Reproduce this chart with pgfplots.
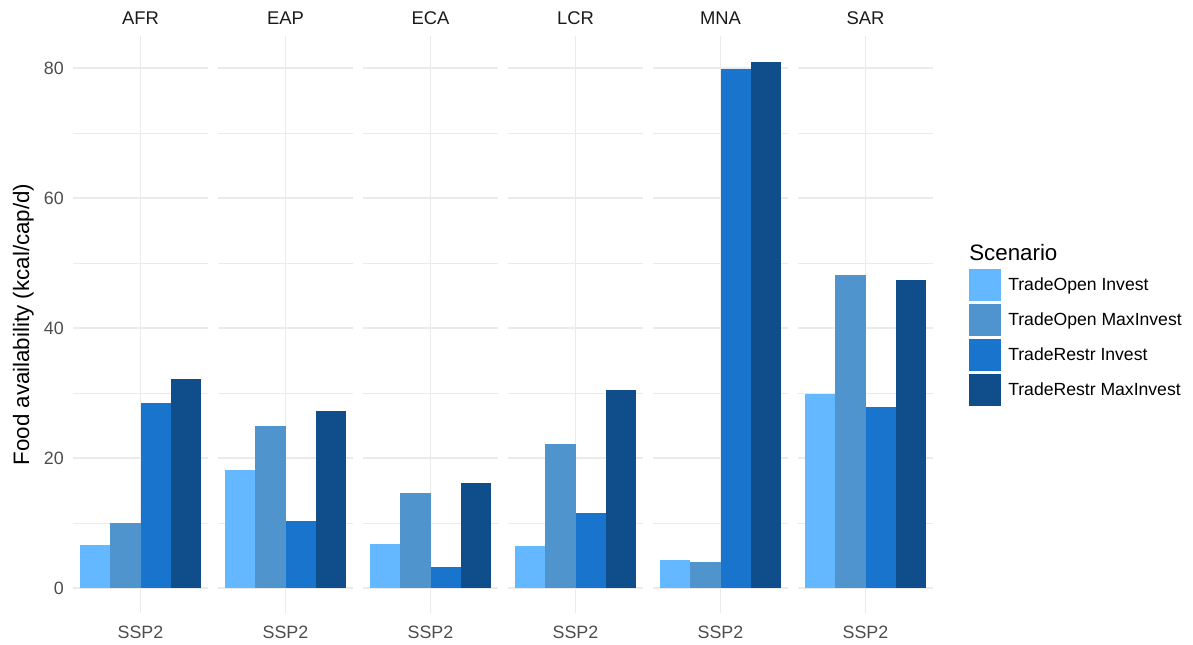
\documentclass[border=0pt]{standalone}
\usepackage{fontspec}
\setmainfont{Liberation Sans}
\usepackage{pgfplots}
\pgfplotsset{compat=1.18}
\definecolor{cA}{RGB}{99,184,255}
\definecolor{cB}{RGB}{79,148,205}
\definecolor{cC}{RGB}{24,116,205}
\definecolor{cD}{RGB}{16,78,139}
\definecolor{gridc}{RGB}{235,235,235}
\definecolor{axtext}{RGB}{77,77,77}
\definecolor{striptext}{RGB}{26,26,26}
\pgfplotsset{
  panel/.style={
    scale only axis, width=101.25pt, height=432.75pt,
    anchor=north west,
    xmin=0.498, xmax=1.502, ymin=-3.85, ymax=84.95,
    axis line style={draw=none},
    tick style={draw=none},
    major tick length=0pt, minor tick length=0pt,
    xtick={1}, xticklabels={SSP2},
    ytick={0,20,40,60,80}, minor ytick={10,30,50,70},
    xmajorgrids, ymajorgrids, yminorgrids,
    major grid style={gridc, line width=1.1pt},
    minor grid style={gridc, line width=0.55pt},
    ticklabel style={font=\fontsize{13.4}{15}\selectfont, text=axtext},
    xticklabel style={anchor=base, yshift=-18.75pt, inner sep=0pt},
    yticklabel style={anchor=east, inner sep=0pt, xshift=-6.75pt},
    /pgf/number format/assume math mode=true,
    title style={at={(0.5,1)}, anchor=base, yshift=2.25pt,
      font=\fontsize{13.8}{16}\selectfont, text=striptext, inner sep=0pt},
    ybar, bar width=0.225, bar shift=0pt,
  },
  noy/.style={yticklabels={}},
  sqlegend/.style={legend image code/.code={\fill[##1] (0pt,-12pt) rectangle (24pt,12pt);}},
}
\begin{document}
\begin{tikzpicture}
\path[use as bounding box] (0,0) rectangle (894.75pt,-483.75pt);
% AFR
\begin{axis}[panel, at={(54.75pt,-27pt)}, title={AFR}]
\addplot[fill=cA, draw=none] coordinates {(0.6625,6.6)};
\addplot[fill=cB, draw=none] coordinates {(0.8875,10.0)};
\addplot[fill=cC, draw=none] coordinates {(1.1125,28.5)};
\addplot[fill=cD, draw=none] coordinates {(1.3375,32.2)};
\end{axis}
% EAP
\begin{axis}[panel, noy, at={(163.5pt,-27pt)}, title={EAP}]
\addplot[fill=cA, draw=none] coordinates {(0.6625,18.2)};
\addplot[fill=cB, draw=none] coordinates {(0.8875,24.9)};
\addplot[fill=cC, draw=none] coordinates {(1.1125,10.3)};
\addplot[fill=cD, draw=none] coordinates {(1.3375,27.2)};
\end{axis}
% ECA
\begin{axis}[panel, noy, at={(272.25pt,-27pt)}, title={ECA}]
\addplot[fill=cA, draw=none] coordinates {(0.6625,6.8)};
\addplot[fill=cB, draw=none] coordinates {(0.8875,14.6)};
\addplot[fill=cC, draw=none] coordinates {(1.1125,3.3)};
\addplot[fill=cD, draw=none] coordinates {(1.3375,16.1)};
\end{axis}
% LCR
\begin{axis}[panel, noy, at={(381pt,-27pt)}, title={LCR}]
\addplot[fill=cA, draw=none] coordinates {(0.6625,6.5)};
\addplot[fill=cB, draw=none] coordinates {(0.8875,22.2)};
\addplot[fill=cC, draw=none] coordinates {(1.1125,11.6)};
\addplot[fill=cD, draw=none] coordinates {(1.3375,30.4)};
\end{axis}
% MNA
\begin{axis}[panel, noy, at={(489.75pt,-27pt)}, title={MNA}]
\addplot[fill=cA, draw=none] coordinates {(0.6625,4.3)};
\addplot[fill=cB, draw=none] coordinates {(0.8875,4.0)};
\addplot[fill=cC, draw=none] coordinates {(1.1125,79.9)};
\addplot[fill=cD, draw=none] coordinates {(1.3375,80.9)};
\end{axis}
% SAR
\begin{axis}[panel, noy, at={(598.5pt,-27pt)}, title={SAR},
  legend style={at={(1.2667,0.5962)}, anchor=north west, draw=none, fill=none,
    inner sep=0pt, row sep=2.25pt, column sep=5.25pt,
    font=\fontsize{13.2}{15}\selectfont, nodes={inner sep=0pt}},
  legend cell align=left]
\addplot[fill=cA, draw=none, sqlegend] coordinates {(0.6625,29.9)};
\addlegendentry{TradeOpen Invest}
\addplot[fill=cB, draw=none, sqlegend] coordinates {(0.8875,48.2)};
\addlegendentry{TradeOpen MaxInvest}
\addplot[fill=cC, draw=none, sqlegend] coordinates {(1.1125,27.8)};
\addlegendentry{TradeRestr Invest}
\addplot[fill=cD, draw=none, sqlegend] coordinates {(1.3375,47.4)};
\addlegendentry{TradeRestr MaxInvest}
\end{axis}
\node[rotate=90, anchor=base, inner sep=0pt, font=\fontsize{16.75}{20}\selectfont] at (21.75pt,-243.4pt) {Food availability (kcal/cap/d)};
\node[anchor=base west, inner sep=0pt, font=\fontsize{16.75}{20}\selectfont] at (726.75pt,-195.75pt) {Scenario};
\end{tikzpicture}
\end{document}
